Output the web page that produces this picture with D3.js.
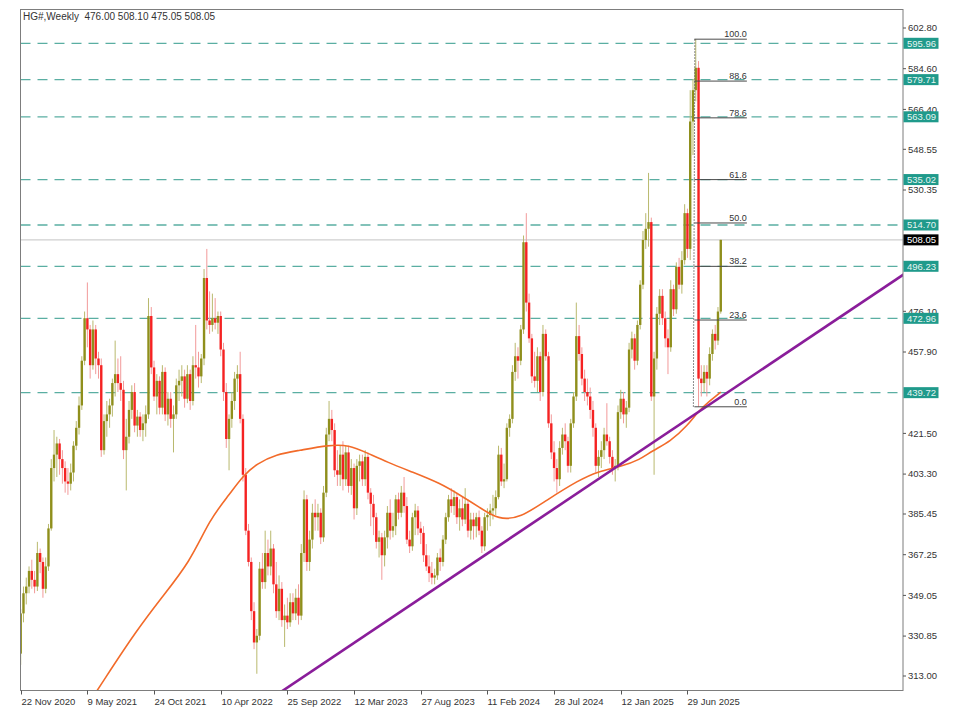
<!DOCTYPE html>
<html><head><meta charset="utf-8">
<script src="https://cdn.jsdelivr.net/npm/d3@7"></script>
<style>
body{margin:0;background:#fff;}
svg{display:block;font-family:"Liberation Sans",Arial,sans-serif;}
</style>
</head><body>
<svg id="c" width="960" height="719"></svg>
<script>
// ---------- DATA (weekly bars, index 0 = 22 Nov 2020) ----------
const openV = [323,341,350,353,360,356,353,368,364,352,
362,379,406,412,417,410,406,400,399,404,
416,424,434,454,473,468,452,468,455,452,
414,427,430,434,444,448,444,441,414,420,
432,440,425,429,423,426,430,474,451,438,
445,433,449,430,437,428,430,443,445,447,
437,448,436,452,451,447,455,491,472,470,
473,471,474,459,440,419,428,436,446,448,
428,403,378,364,342,328,331,361,355,368,
362,370,354,342,352,338,340,337,346,341,
348,340,368,392,364,374,386,384,386,375,
395,421,428,423,405,403,412,401,413,398,
406,388,407,409,401,411,395,390,384,373,
375,367,375,386,378,380,392,386,395,389,
374,371,384,387,379,377,367,362,359,357,
358,366,364,374,384,392,389,393,384,388,
383,390,378,383,380,384,378,371,384,385,
387,388,393,412,400,401,424,428,449,456,
454,468,507,480,464,447,445,456,440,466,
456,426,413,406,401,415,421,418,407,426,
438,465,457,446,440,438,432,424,407,411,
414,421,418,411,406,407,431,437,430,433,
459,464,454,470,488,508,513,516,438,455,
475,483,473,464,460,486,477,496,488,499,
520,504,561,575,585,446,444,449,446,457,
466,463,476];
const highV = [343,353,357,362,365,360,373,370,366,366,
381,410,423,420,419,414,409,406,408,418,
427,438,456,476,489,470,472,470,458,455,
430,436,437,446,463,455,456,445,428,436,
443,444,432,431,430,434,482,478,454,448,
447,452,451,440,440,434,446,450,452,450,
452,450,456,470,458,457,495,504,485,484,
482,476,476,462,444,430,440,449,452,458,
430,406,381,366,346,334,364,368,378,374,
378,372,364,358,355,345,348,350,350,352,
354,372,396,394,378,390,392,390,388,398,
424,436,432,426,414,416,418,416,416,410,
408,410,412,412,414,413,397,394,386,378,
377,378,389,392,386,394,395,398,402,393,
378,386,390,389,382,380,372,367,364,361,
368,370,376,386,394,397,396,395,392,393,
397,392,386,386,386,387,380,386,388,390,
394,396,416,415,408,426,430,452,462,460,
470,510,520,484,466,458,460,458,470,468,
458,430,418,410,418,424,426,420,428,440,
480,470,460,450,446,442,436,426,414,418,
424,435,420,414,410,434,441,440,436,462,
467,466,472,490,512,520,538,518,458,478,
486,486,476,468,490,488,498,500,503,524,
522,575,580,597.8,588,452,452,452,460,468,
470,478,508.1];
const lowV = [318,337,345,350,352,350,351,359,348,350,
360,378,400,402,403,399,395,394,396,400,
414,421,432,452,460,446,450,448,446,411,
412,420,424,429,438,440,436,410,396,417,
428,422,420,420,418,420,428,448,436,430,
430,430,427,425,424,413,428,436,438,433,
435,432,434,446,442,444,452,468,466,467,
468,466,456,436,415,405,424,432,440,426,
400,376,362,338,325,314,329,352,352,358,
358,350,339,338,335,326,334,335,338,338,
336,338,364,360,360,370,378,378,372,373,
393,418,418,402,398,398,396,398,395,394,
383,385,400,398,398,392,380,376,370,366,
356,362,370,374,375,376,383,384,386,372,
368,369,376,376,372,364,360,355,354,354,
356,360,362,372,382,386,385,381,378,380,
381,375,374,374,375,376,368,369,378,380,
383,385,392,398,397,400,420,426,445,446,
452,466,476,462,444,442,440,436,438,454,
424,410,400,395,398,412,414,404,404,424,
436,454,443,436,434,428,420,404,402,406,
410,416,408,403,400,405,428,426,424,431,
455,450,452,468,486,504,505,436,403,450,
470,470,460,448,458,474,475,486,484,497,
500,499,546,570,433.4,438,440,438,443,454,
459,461,475.05];
const closeV = [341,350,353,360,356,353,368,364,352,362,
379,406,412,417,410,406,400,399,404,416,
424,434,454,473,468,452,468,455,452,414,
427,430,434,444,448,444,441,414,420,432,
440,425,429,423,426,430,474,451,438,445,
433,449,430,437,428,430,443,445,447,437,
448,436,452,451,447,455,491,472,470,473,
471,474,459,440,419,428,436,446,448,428,
403,378,364,342,328,331,361,355,368,362,
370,354,342,352,338,340,337,346,341,348,
340,368,392,364,374,386,384,386,375,395,
421,428,423,405,403,412,401,413,398,406,
388,407,409,401,411,395,390,384,373,375,
367,375,386,378,380,392,386,395,389,374,
371,384,387,379,377,367,362,359,357,358,
366,364,374,384,392,389,393,384,388,383,
390,378,383,380,384,378,371,384,385,387,
388,393,412,400,401,424,428,449,456,454,
468,507,480,464,447,445,456,440,466,456,
426,413,406,401,415,421,418,407,426,438,
465,457,446,440,438,432,424,407,411,414,
421,418,411,406,407,431,437,430,433,459,
464,454,470,488,508,513,516,438,455,475,
483,473,464,460,486,477,496,488,499,520,
504,561,575,585,446,444,449,446,457,466,
463,476,508.05];

const maIdx = [22,33,41,50,61,68,75,80,85,92,100,111,118,125,132,141,151,158,165,172,180,189,201,208,216,223,227,234,240,244,248,252];
const maVal = [296,317,332,347,364,383,394,402.5,408,412.2,413.8,416.3,416.4,412.6,408.6,404.2,399.2,394,388.6,382.8,383.8,391.4,400.7,404.6,406.6,409.8,413.5,418,425,431.5,436,440];

// support trend line anchors
const trendIdx = [150, 244];
const trendVal = [352.8, 431.1];

// horizontal levels (teal dashed)
const levels = [595.96, 579.71, 563.09, 535.02, 514.70, 496.23, 472.96, 439.72];
const lastPrice = 508.05;

// fibonacci retracement
const fibNames = ["0.0","23.6","38.2","50.0","61.8","78.6","88.6","100.0"];
const fibRatios = [0, 0.236, 0.382, 0.5, 0.618, 0.786, 0.886, 1];
const fibLow = 433.4, fibHigh = 597.8;
const fibStartIdx = 242.5, fibEndIdx = 261.4;

// axes (visible price scale labels)
const yTicks = [602.80,584.60,566.40,548.55,530.35,476.10,457.90,421.50,403.30,385.45,367.25,349.05,330.85,313.00];
const xTickIdx = [0,24,48,72,96,120,144,168,192,216,240];
const xTickLabels = ["22 Nov 2020","9 May 2021","24 Oct 2021","10 Apr 2022","25 Sep 2022","12 Mar 2023","27 Aug 2023","11 Feb 2024","28 Jul 2024","12 Jan 2025","29 Jun 2025"];
const header = "HG#,Weekly  476.00 508.10 475.05 508.05";

// ---------- DRAW ----------
const svg = d3.select("#c");
const L = 20.5, R = 903, T = 9.5, B = 690.5;
const x = d3.scaleLinear().domain([0, 317.6]).range([20.7, 903]);
const y = d3.scaleLinear().domain([313, 602.8]).range([676, 28]);

svg.append("rect").attr("width",960).attr("height",719).attr("fill","#fff");
svg.append("defs").append("clipPath").attr("id","clip")
  .append("rect").attr("x",L).attr("y",T).attr("width",R-L).attr("height",B-T);
const plot = svg.append("g").attr("clip-path","url(#clip)");

// teal dashed levels
plot.selectAll(".lvl").data(levels).enter().append("line")
  .attr("x1",L).attr("x2",R).attr("y1",d=>y(d)).attr("y2",d=>y(d))
  .attr("stroke","#5aaea2").attr("stroke-width",1.3).attr("stroke-dasharray","10,7");

// last price line
plot.append("line").attr("x1",L).attr("x2",R).attr("y1",y(lastPrice)).attr("y2",y(lastPrice))
  .attr("stroke","#cfcfcf").attr("stroke-width",1.2);

// candles
const bars = d3.range(closeV.length).map(i=>({i,o:openV[i],h:highV[i],l:lowV[i],c:closeV[i]}));
const g = plot.append("g");
g.selectAll(".wick").data(bars).enter().append("line")
  .attr("x1",d=>x(d.i)).attr("x2",d=>x(d.i))
  .attr("y1",d=>y(d.h)).attr("y2",d=>y(d.l))
  .attr("stroke",d=>d.c>=d.o?"#b9b96e":"#f29a9a").attr("stroke-width",1);
g.selectAll(".body").data(bars).enter().append("rect")
  .attr("x",d=>x(d.i)-1.2).attr("width",2.4)
  .attr("y",d=>y(Math.max(d.o,d.c)))
  .attr("height",d=>Math.max(1,Math.abs(y(d.o)-y(d.c))))
  .attr("fill",d=>d.c>=d.o?"#8f8f1c":"#f52222");

// moving average
const maPts = maIdx.map((v,k)=>[v,maVal[k]]);
plot.append("path").datum(maPts)
  .attr("d", d3.line().x(d=>x(d[0])).y(d=>y(d[1])).curve(d3.curveBasis))
  .attr("fill","none").attr("stroke","#f26b2a").attr("stroke-width",1.6);

// trend line
const tr = d3.scaleLinear().domain(trendIdx).range(trendVal);
plot.append("line").attr("x1",x(60)).attr("y1",y(tr(60))).attr("x2",x(330)).attr("y2",y(tr(330)))
  .attr("stroke","#8a1d9a").attr("stroke-width",2.6);

// fibonacci
const fg = svg.append("g");
fg.append("line").attr("x1",x(fibStartIdx)-1).attr("y1",y(fibLow)).attr("x2",x(fibStartIdx)+0.5).attr("y2",y(fibHigh))
  .attr("stroke","#666").attr("stroke-width",1).attr("stroke-dasharray","1.5,1.5");
fibRatios.forEach((r,k)=>{
  const p = fibLow + r*(fibHigh-fibLow);
  fg.append("line").attr("x1",x(fibStartIdx)).attr("x2",x(fibEndIdx)).attr("y1",y(p)).attr("y2",y(p))
    .attr("stroke","#4a4a4a").attr("stroke-width",1);
  fg.append("text").attr("x",x(fibEndIdx)).attr("y",y(p)-2).attr("text-anchor","end")
    .attr("font-size","9px").attr("fill","#333").text(fibNames[k]);
});

// frame
svg.append("rect").attr("x",L).attr("y",T).attr("width",R-L).attr("height",B-T)
  .attr("fill","none").attr("stroke","#7d7d7d").attr("stroke-width",1);

// right axis
const ra = svg.append("g");
yTicks.forEach(v=>{
  ra.append("line").attr("x1",R).attr("x2",R+3).attr("y1",y(v)).attr("y2",y(v)).attr("stroke","#555");
  ra.append("text").attr("x",R+5).attr("y",y(v)).attr("dy","0.35em")
    .attr("font-size","9.5px").attr("fill","#333").text(v.toFixed(2));
});
levels.forEach(v=>{
  ra.append("rect").attr("x",R+0.5).attr("y",y(v)-5.5).attr("width",35).attr("height",11).attr("fill","#1f9a8b");
  ra.append("text").attr("x",R+4).attr("y",y(v)).attr("dy","0.35em")
    .attr("font-size","9.5px").attr("fill","#e6f5f2").text(v.toFixed(2));
});
ra.append("rect").attr("x",R+0.5).attr("y",y(lastPrice)-5.5).attr("width",35).attr("height",11).attr("fill","#000");
ra.append("text").attr("x",R+4).attr("y",y(lastPrice)).attr("dy","0.35em")
  .attr("font-size","9.5px").attr("fill","#fff").text(lastPrice.toFixed(2));

// bottom axis
const ba = svg.append("g");
xTickIdx.forEach((t,k)=>{
  const xx = Math.round(x(t))+0.5;
  ba.append("line").attr("x1",xx).attr("x2",xx).attr("y1",B).attr("y2",B+4).attr("stroke","#555");
  ba.append("text").attr("x",xx).attr("y",B+14).attr("font-size","9.5px").attr("fill","#333").text(xTickLabels[k]);
});

// header
svg.append("text").attr("x",23).attr("y",20).attr("font-size","10px").attr("fill","#333")
  .style("white-space","pre").text(header);
</script>
</body></html>
